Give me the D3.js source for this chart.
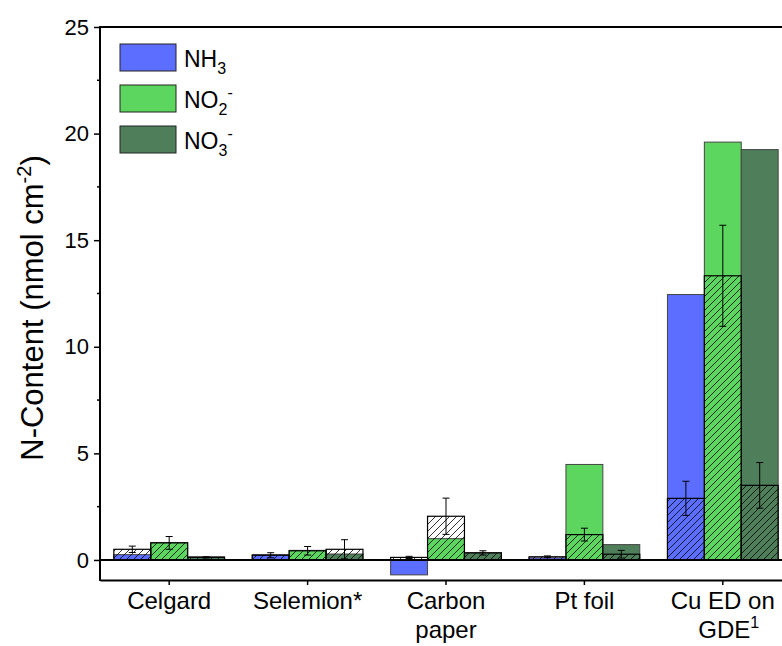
<!DOCTYPE html>
<html>
<head>
    <meta charset="UTF-8">
    <title>N-Content</title>
    <style>
        body { margin: 0; background: white; }
        svg { display: block; font-family: "Liberation Sans", Arial, sans-serif; }
    </style>
</head>
<body>
    <svg id="chart" width="782" height="646"></svg>
    <script src="https://d3js.org/d3.v7.min.js"></script>
    <script>
        // categories and series
        var categories = ["Celgard", "Selemion*", "Carbon paper", "Pt foil", "Cu ED on GDE"];
        var species = ["NH3", "NO2", "NO3"];
        var colors = ["#5c6eff", "#5cd65f", "#4e7f5a"];

        // solid bars (total) per species, one value per category
        var solidNH3 = [0.25, 0.25, -0.7, 0.1, 12.45];
        var solidNO2 = [0.82, 0.45, 1.0, 4.48, 19.6];
        var solidNO3 = [0.15, 0.28, 0.35, 0.72, 19.25];

        // hatched bars and their error
        var hatchNH3 = [0.5, 0.22, 0.12, 0.15, 2.89];
        var hatchNO2 = [0.8, 0.43, 2.05, 1.19, 13.33];
        var hatchNO3 = [0.12, 0.5, 0.33, 0.27, 3.5];
        var errNH3 = [0.15, 0.12, 0.05, 0.04, 0.8];
        var errNO2 = [0.3, 0.2, 0.85, 0.3, 2.37];
        var errNO3 = [0.03, 0.45, 0.1, 0.18, 1.07];

        var yTicks = [0, 5, 10, 15, 20, 25];
        var yMinor = [2.5, 7.5, 12.5, 17.5, 22.5];

        var solid = [solidNH3, solidNO2, solidNO3];
        var hatch = [hatchNH3, hatchNO2, hatchNO3];
        var errs = [errNH3, errNO2, errNO3];

        var svg = d3.select("#chart");
        var mLeft = 100, mTop = 27, mBottom = 580, mRight = 792;

        var x = d3.scaleBand().domain(categories).range([mLeft, mRight]).paddingInner(0.2).paddingOuter(0.1);
        var x0 = d3.scaleBand().domain(categories).range([mLeft, mRight]);
        var xs = d3.scaleBand().domain(species).range([0, x.bandwidth()]);
        var y = d3.scaleLinear().domain([-0.94, 25]).range([mBottom, mTop]);

        // hatch pattern
        var defs = svg.append("defs");
        defs.append("pattern")
            .attr("id", "hatch")
            .attr("patternUnits", "userSpaceOnUse")
            .attr("width", 7).attr("height", 7)
            .append("path")
            .attr("d", "M-2,2 l4,-4 M0,7 l7,-7 M5,9 l4,-4")
            .attr("stroke", "#000").attr("stroke-width", 0.8);

        var rows = [];
        species.forEach(function(s, si) {
            categories.forEach(function(c, ci) {
                rows.push({ cat: c, sp: s, si: si, solid: solid[si][ci], hatch: hatch[si][ci], err: errs[si][ci] });
            });
        });

        var g = svg.append("g");

        // solid bars
        g.selectAll("rect.solid").data(rows).enter().append("rect")
            .attr("class", "solid")
            .attr("x", function(d) { return x(d.cat) + xs(d.sp); })
            .attr("width", xs.bandwidth())
            .attr("y", function(d) { return y(Math.max(0, d.solid)); })
            .attr("height", function(d) { return Math.abs(y(d.solid) - y(0)); })
            .attr("fill", function(d) { return colors[d.si]; })
            .attr("stroke", "#444").attr("stroke-width", 1);

        // hatched bars
        g.selectAll("rect.hatch").data(rows).enter().append("rect")
            .attr("class", "hatch")
            .attr("x", function(d) { return x(d.cat) + xs(d.sp); })
            .attr("width", xs.bandwidth())
            .attr("y", function(d) { return y(d.hatch); })
            .attr("height", function(d) { return y(0) - y(d.hatch); })
            .attr("fill", "url(#hatch)")
            .attr("stroke", "#000").attr("stroke-width", 1.2);

        // error bars
        var eb = g.selectAll("g.err").data(rows).enter().append("g").attr("class", "err")
            .attr("stroke", "#000").attr("stroke-width", 1);
        function cx(d) { return x(d.cat) + xs(d.sp) + xs.bandwidth() / 2; }
        eb.append("line")
            .attr("x1", cx).attr("x2", cx)
            .attr("y1", function(d) { return y(d.hatch + d.err); })
            .attr("y2", function(d) { return y(d.hatch - d.err); });
        eb.append("line")
            .attr("x1", function(d) { return cx(d) - 3.5; }).attr("x2", function(d) { return cx(d) + 3.5; })
            .attr("y1", function(d) { return y(d.hatch + d.err); })
            .attr("y2", function(d) { return y(d.hatch + d.err); });
        eb.append("line")
            .attr("x1", function(d) { return cx(d) - 3.5; }).attr("x2", function(d) { return cx(d) + 3.5; })
            .attr("y1", function(d) { return y(d.hatch - d.err); })
            .attr("y2", function(d) { return y(d.hatch - d.err); });

        // zero line
        svg.append("line")
            .attr("x1", mLeft).attr("x2", mRight)
            .attr("y1", y(0)).attr("y2", y(0))
            .attr("stroke", "#000").attr("stroke-width", 2);

        // frame: top line
        svg.append("line")
            .attr("x1", mLeft).attr("x2", mRight)
            .attr("y1", mTop).attr("y2", mTop)
            .attr("stroke", "#000").attr("stroke-width", 2);

        // y axis
        var yAxis = svg.append("g")
            .attr("transform", "translate(" + mLeft + ",0)")
            .call(d3.axisLeft(y).tickValues(yTicks).tickSize(6).tickPadding(5).tickSizeOuter(0));
        yAxis.select(".domain").remove();
        yAxis.selectAll(".tick line").attr("stroke-width", 1.5);
        yAxis.selectAll("text").attr("font-size", 22).attr("fill", "#000")
            .attr("font-family", "'Liberation Sans', Arial, sans-serif");
        yAxis.selectAll("line.minor").data(yMinor).enter().append("line")
            .attr("class", "minor")
            .attr("x1", -3).attr("x2", 0)
            .attr("y1", function(d) { return y(d); }).attr("y2", function(d) { return y(d); })
            .attr("stroke", "#000").attr("stroke-width", 1.5);
        svg.append("line")
            .attr("x1", mLeft).attr("x2", mLeft).attr("y1", mTop - 1).attr("y2", mBottom + 1)
            .attr("stroke", "#000").attr("stroke-width", 2);

        // x axis
        var xAxis = svg.append("g")
            .attr("transform", "translate(0," + mBottom + ")")
            .call(d3.axisBottom(x0).tickSize(5).tickSizeOuter(0).tickFormat(""));
        xAxis.select(".domain").attr("stroke-width", 2);
        xAxis.selectAll(".tick line").attr("stroke-width", 1.5);

        var xLabels = {
            "Celgard": ["Celgard"],
            "Selemion*": ["Selemion*"],
            "Carbon paper": ["Carbon", "paper"],
            "Pt foil": ["Pt foil"],
            "Cu ED on GDE": ["Cu ED on", "GDE"]
        };
        categories.forEach(function(c) {
            var t = svg.append("text")
                .attr("x", x0(c) + x0.bandwidth() / 2)
                .attr("y", 609)
                .attr("text-anchor", "middle")
                .attr("font-size", 24).attr("fill", "#000");
            xLabels[c].forEach(function(line, i) {
                t.append("tspan")
                    .attr("x", x0(c) + x0.bandwidth() / 2 + (c === "Cu ED on GDE" && i === 1 ? 6 : 0))
                    .attr("dy", i === 0 ? 0 : 29)
                    .text(line);
                if (c === "Cu ED on GDE" && i === 1) {
                    t.append("tspan").attr("dy", -10).attr("font-size", 16).text("1");
                }
            });
        });

        // y title
        var yt = svg.append("text")
            .attr("transform", "translate(43,308) rotate(-90)")
            .attr("text-anchor", "middle")
            .attr("font-size", 31).attr("fill", "#000");
        yt.append("tspan").text("N-Content (nmol cm");
        yt.append("tspan").attr("dy", -12).attr("font-size", 20).text("-2");
        yt.append("tspan").attr("dy", 12).text(")");

        // legend
        var legendLabels = [["NH", "3", ""], ["NO", "2", "-"], ["NO", "3", "-"]];
        var lg = svg.append("g");
        species.forEach(function(s, i) {
            var ly = 44 + i * 41;
            lg.append("rect")
                .attr("x", 120).attr("y", ly)
                .attr("width", 56).attr("height", 27)
                .attr("fill", colors[i]).attr("stroke", "#222").attr("stroke-width", 1);
            var t = lg.append("text")
                .attr("x", 184).attr("y", ly + 23)
                .attr("font-size", 23).attr("fill", "#000");
            t.append("tspan").text(legendLabels[i][0]);
            t.append("tspan").attr("dy", 7).attr("font-size", 16).text(legendLabels[i][1]);
            if (legendLabels[i][2]) {
                t.append("tspan").attr("dy", -17).attr("font-size", 16).text(legendLabels[i][2]);
            }
        });
    </script>
</body>
</html>
